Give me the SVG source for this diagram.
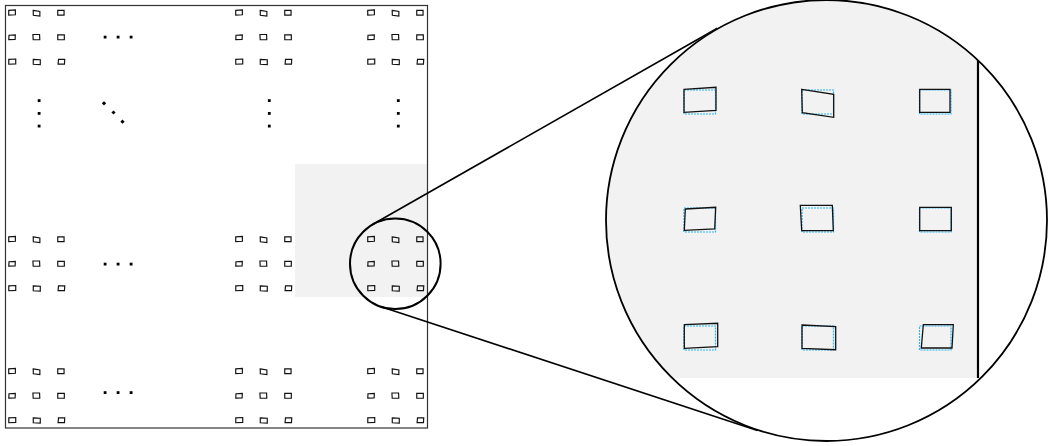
<svg xmlns="http://www.w3.org/2000/svg" xmlns:xlink="http://www.w3.org/1999/xlink" width="1050" height="446" viewBox="0 0 1050 446">
<style>
.quad{fill:none;stroke:#111;stroke-linejoin:miter}
.ideal{fill:none;stroke:#29b6f6;stroke-width:1.2;stroke-dasharray:2 1}
.dot{fill:#000}
.frame{fill:none;stroke:#333;stroke-width:1.2}
.zoom{fill:none;stroke:#000;stroke-width:2}
.conn{fill:none;stroke:#000;stroke-width:1.6}
.shade{fill:#f2f2f2}
</style>
<defs>
<g id="quads" class="quad">
<polygon points="-15.75,-12.7 16.25,-14.7 16.25,8.3 -15.75,10.3"/>
<polygon points="101.95,-12.7 133.95,-7.7 133.95,15.3 102.55,10.7"/>
<polygon points="219.95,-12.7 250.25,-12.7 250.25,10.3 219.95,10.3"/>
<polygon points="-14.45,107 15.95,105.3 14.95,127 -15.45,128.3"/>
<polygon points="100.55,103.3 132.55,103.3 133.55,128.7 101.95,128.7"/>
<polygon points="219.95,105.3 251.55,105.3 251.55,128.7 219.95,128.7"/>
<polygon points="-15.45,222.7 17.95,221.3 17.95,244.7 -15.45,246.3"/>
<polygon points="102.25,223 135.95,224.7 135.95,247.7 102.25,246.3"/>
<polygon points="223.55,222.7 253.55,222.7 252.25,246 221.55,246"/>
</g>
<clipPath id="bigclip"><circle cx="826.5" cy="220.5" r="221"/></clipPath>
</defs>

<g id="overview">
<rect class="shade" x="295" y="164" width="132.5" height="133"/>
<use xlink:href="#quads" href="#quads" transform="translate(12,13) scale(0.208)" stroke-width="5.6"/>
<use xlink:href="#quads" href="#quads" transform="translate(239,239.5) scale(0.208)" stroke-width="5.6"/>
<use xlink:href="#quads" href="#quads" transform="translate(12,239.5) scale(0.208)" stroke-width="5.6"/>
<use xlink:href="#quads" href="#quads" transform="translate(239,13) scale(0.208)" stroke-width="5.6"/>
<use xlink:href="#quads" href="#quads" transform="translate(371,13) scale(0.208)" stroke-width="5.6"/>
<use xlink:href="#quads" href="#quads" transform="translate(371,239.5) scale(0.208)" stroke-width="5.6"/>
<use xlink:href="#quads" href="#quads" transform="translate(12,371.5) scale(0.208)" stroke-width="5.6"/>
<use xlink:href="#quads" href="#quads" transform="translate(239,371.5) scale(0.208)" stroke-width="5.6"/>
<use xlink:href="#quads" href="#quads" transform="translate(371,371.5) scale(0.208)" stroke-width="5.6"/>
<g id="ellipses" class="dot">
<rect x="103.7" y="35.7" width="2.8" height="2.8"/><rect x="116.7" y="35.7" width="2.8" height="2.8"/><rect x="129.7" y="35.7" width="2.8" height="2.8"/>
<rect x="103.7" y="262.7" width="2.8" height="2.8"/><rect x="116.7" y="262.7" width="2.8" height="2.8"/><rect x="129.7" y="262.7" width="2.8" height="2.8"/>
<rect x="103.7" y="391.2" width="2.8" height="2.8"/><rect x="116.7" y="391.2" width="2.8" height="2.8"/><rect x="129.7" y="391.2" width="2.8" height="2.8"/>
<rect x="37.7" y="99.2" width="2.8" height="2.8"/><rect x="37.7" y="112" width="2.8" height="2.8"/><rect x="37.7" y="124.7" width="2.8" height="2.8"/>
<rect x="267.9" y="99.2" width="2.8" height="2.8"/><rect x="267.9" y="112" width="2.8" height="2.8"/><rect x="267.9" y="124.7" width="2.8" height="2.8"/>
<rect x="396.9" y="99.2" width="2.8" height="2.8"/><rect x="396.9" y="112" width="2.8" height="2.8"/><rect x="396.9" y="124.7" width="2.8" height="2.8"/>
<rect x="-1.5" y="-1.5" width="3" height="3" transform="translate(104,103.3) rotate(45)"/>
<rect x="-1.5" y="-1.5" width="3" height="3" transform="translate(113.5,112.5) rotate(45)"/>
<rect x="-1.5" y="-1.5" width="3" height="3" transform="translate(122.5,121.7) rotate(45)"/>
</g>
<rect class="frame" x="5.5" y="5.5" width="422" height="422.5"/>
</g>

<g id="lens">
<circle class="zoom" cx="395.3" cy="263.7" r="45.3"/>
</g>

<g id="connectors">
<line class="conn" x1="372.9" y1="224.3" x2="717.3" y2="28.2"/>
<line class="conn" x1="381.2" y1="306.7" x2="757.5" y2="430.5"/>
</g>

<g id="magnified">
<g clip-path="url(#bigclip)">
<rect class="shade" x="600" y="0" width="378" height="378"/>
<g id="ideal">
<rect class="ideal" x="684" y="90" width="31.5" height="24"/>
<rect class="ideal" x="802" y="90" width="31.5" height="24"/>
<rect class="ideal" x="919.5" y="90" width="31.5" height="24"/>
<rect class="ideal" x="684" y="208" width="31.5" height="24"/>
<rect class="ideal" x="802" y="208" width="31.5" height="24"/>
<rect class="ideal" x="919.5" y="208" width="31.5" height="24"/>
<rect class="ideal" x="684" y="326" width="31.5" height="24"/>
<rect class="ideal" x="802" y="326" width="31.5" height="24"/>
<rect class="ideal" x="919.5" y="326" width="31.5" height="24"/>
</g>
<use xlink:href="#quads" href="#quads" transform="translate(699.75,102)" stroke-width="1.3"/>
<line x1="978" y1="0" x2="978" y2="378" stroke="#000" stroke-width="2.2"/>
</g>
<circle cx="826.5" cy="220.5" r="220.5" fill="none" stroke="#000" stroke-width="1.8"/>
</g>
</svg>
